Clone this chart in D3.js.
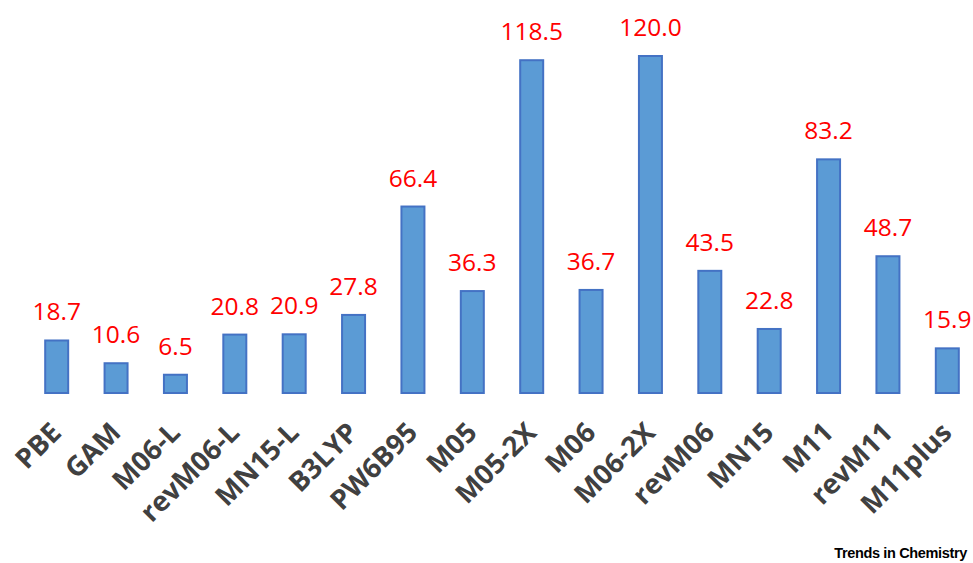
<!DOCTYPE html>
<html>
<head>
<meta charset="utf-8">
<script src="https://cdn.jsdelivr.net/npm/d3@7"></script>
<style>
  html, body { margin: 0; padding: 0; background: #fff; }
  svg { display: block; }
</style>
</head>
<body>
<svg id="chart" width="973" height="563"></svg>
<script>
// Functionals and their values
const categories = ["PBE", "GAM", "M06-L", "revM06-L", "MN15-L", "B3LYP", "PW6B95", "M05",
  "M05-2X", "M06", "M06-2X", "revM06", "MN15", "M11", "revM11", "M11plus"];
const values = [18.7, 10.6, 6.5, 20.8, 20.9, 27.8, 66.4, 36.3,
  118.5, 36.7, 120.0, 43.5, 22.8, 83.2, 48.7, 15.9];

const svg = d3.select("#chart");

const x = d3.scaleBand().domain(categories).range([27, 977]).padding(0);
const y = d3.scaleLinear().domain([0, 120]).range([393, 56]);
const barW = 23;
const cx = d => x(d) + x.bandwidth() / 2;

const data = categories.map((c, i) => ({ c, v: values[i] }));

// bars
svg.append("g").selectAll("rect").data(data).join("rect")
  .attr("x", d => cx(d.c) - barW / 2)
  .attr("y", d => y(d.v))
  .attr("width", barW)
  .attr("height", d => y(0) - y(d.v))
  .attr("fill", "#5B9BD5")
  .attr("stroke", "#4472C4")
  .attr("stroke-width", 2);

// value labels
svg.append("g").selectAll("text").data(data).join("text")
  .attr("x", d => cx(d.c))
  .attr("y", d => y(d.v) - 20)
  .attr("text-anchor", "middle")
  .attr("font-family", "'Open Sans', sans-serif")
  .attr("font-size", 24.5)
  .attr("fill", "#FF0000")
  .text(d => d.v.toFixed(1));

// category axis labels, rotated
const xAxis = d3.axisBottom(x).tickSize(0).tickPadding(0);
const gx = svg.append("g").attr("transform", "translate(0,428)").call(xAxis);
gx.select(".domain").remove();
gx.selectAll(".tick text")
  .attr("transform", "rotate(-45)")
  .attr("y", 0)
  .attr("x", 0)
  .attr("dy", "0.32em")
  .attr("text-anchor", "end")
  .attr("font-family", "'Open Sans', sans-serif")
  .attr("font-weight", "bold")
  .attr("font-size", 27.5)
  .attr("fill", "#404040");

// source credit
svg.append("text")
  .attr("x", 967)
  .attr("y", 558)
  .attr("text-anchor", "end")
  .attr("font-family", "'Liberation Sans', Arial, sans-serif")
  .attr("font-weight", "bold")
  .attr("font-size", 14.5)
  .attr("letter-spacing", "-0.35")
  .attr("fill", "#000")
  .text("Trends in Chemistry");
</script>
</body>
</html>
